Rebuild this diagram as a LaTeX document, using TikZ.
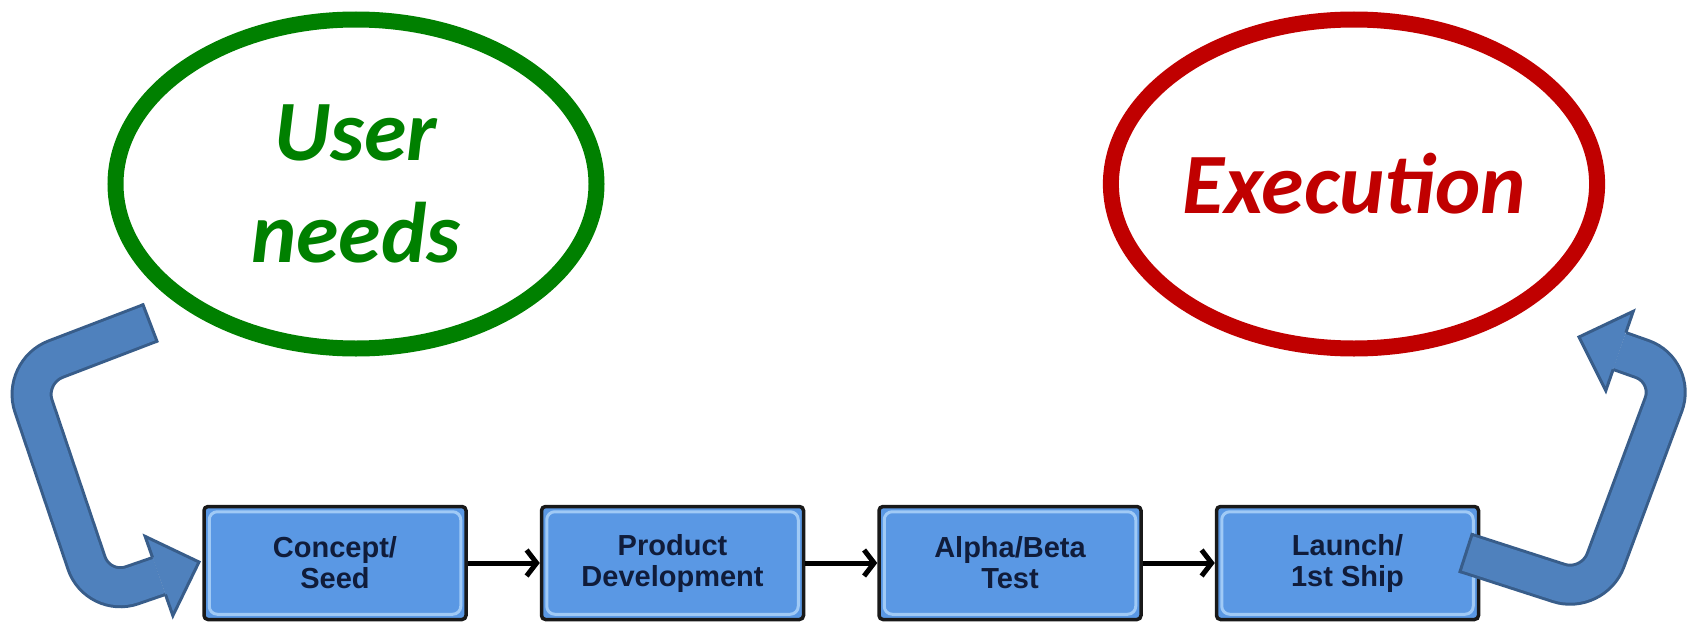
\documentclass[tikz,border=0pt]{standalone}
\usepackage{fontspec}
\setmainfont{Liberation Sans}
\newfontfamily\calibri{Carlito}
\usetikzlibrary{shapes.geometric,arrows.meta,positioning,calc}

\definecolor{needgreen}{RGB}{0,128,0}
\definecolor{execred}{RGB}{192,0,0}
\definecolor{bendfill}{RGB}{79,129,189}
\definecolor{bendline}{RGB}{56,93,138}
\definecolor{stagefill}{RGB}{90,152,228}
\definecolor{stagelight}{RGB}{160,202,246}
\definecolor{stagetext}{RGB}{16,28,58}

\tikzset{
  goal/.style={ellipse,draw,line width=16pt,inner sep=0pt,
    minimum width=481pt,minimum height=329pt,align=center,
    font=\calibri\bfseries\itshape\fontsize{86}{102}\selectfont},
  stage/.style={rectangle,draw=black!90,fill=stagefill,line width=3.5pt,
    rounded corners=4pt,minimum width=262pt,minimum height=113pt,
    align=center,text=stagetext,font=\bfseries\fontsize{29}{31}\selectfont},
  flow/.style={line width=5pt,-{Straight Barb[length=10pt,width=26pt,line width=5pt]}},
  bentshaft/.style={draw=bendline,line width=3pt,double=bendfill,double distance=36pt,
    rounded corners=36pt},
  bendedge/.style={draw=bendline,line width=3pt,line join=miter},
}

\begin{document}
\begin{tikzpicture}[x=1pt,y=-1pt]
  \useasboundingbox (0,0) rectangle (1687,626);

  % goals
  \node[goal,draw=needgreen,text=needgreen] (needs) at (356,184) {User\\needs};
  \node[goal,draw=execred,text=execred] (exec) at (1354,184) {Execution};

  % stages
  \node[stage] (concept) at (335,563) {Concept/\\Seed};
  \node[stage,right=72pt of concept] (product) {Product\\Development};
  \node[stage,right=72pt of product] (alpha) {Alpha/Beta\\Test};
  \node[stage,right=72pt of alpha] (launch) {Launch/\\1st Ship};
  \foreach \s in {concept,product,alpha,launch}
    \draw[stagelight,line width=3pt,rounded corners=8pt]
      ([shift={(7pt,-7pt)}]\s.north west) rectangle ([shift={(-7pt,7pt)}]\s.south east);

  \draw[flow] (concept) -- (product);
  \draw[flow] (product) -- (alpha);
  \draw[flow] (alpha) -- (launch);

  % bent arrow into the first stage
  \coordinate (lt) at (150,323);
  \coordinate (la) at (22,372);
  \coordinate (lb) at (98,597);
  \coordinate (lm) at (159,576);
  \coordinate (lh) at (199,562);
  \draw[bentshaft] (lt) -- (la) -- (lb) -- (lm);
  \draw[bendedge] ($(lt)!21pt!90:(la)$) -- ($(lt)!21pt!-90:(la)$);
  \fill[bendfill] ($(lm)!42pt!90:(lh)$) -- (lh) -- ($(lm)!42pt!-90:(lh)$) -- cycle;
  \draw[bendedge] ($(lm)!19.5pt!90:(lh)$) -- ($(lm)!42pt!90:(lh)$) -- (lh)
    -- ($(lm)!42pt!-90:(lh)$) -- ($(lm)!19.5pt!-90:(lh)$);

  % bent arrow out of the last stage
  \coordinate (rt) at (1466,553);
  \coordinate (rc) at (1593,594);
  \coordinate (rd) at (1676,371);
  \coordinate (rm) at (1619.5,351);
  \coordinate (rh) at (1579,337);
  \draw[bentshaft] (rt) -- (rc) -- (rd) -- (rm);
  \draw[bendedge] ($(rt)!21pt!90:(rc)$) -- ($(rt)!21pt!-90:(rc)$);
  \fill[bendfill] ($(rm)!42pt!90:(rh)$) -- (rh) -- ($(rm)!42pt!-90:(rh)$) -- cycle;
  \draw[bendedge] ($(rm)!19.5pt!90:(rh)$) -- ($(rm)!42pt!90:(rh)$) -- (rh)
    -- ($(rm)!42pt!-90:(rh)$) -- ($(rm)!19.5pt!-90:(rh)$);
\end{tikzpicture}
\end{document}
